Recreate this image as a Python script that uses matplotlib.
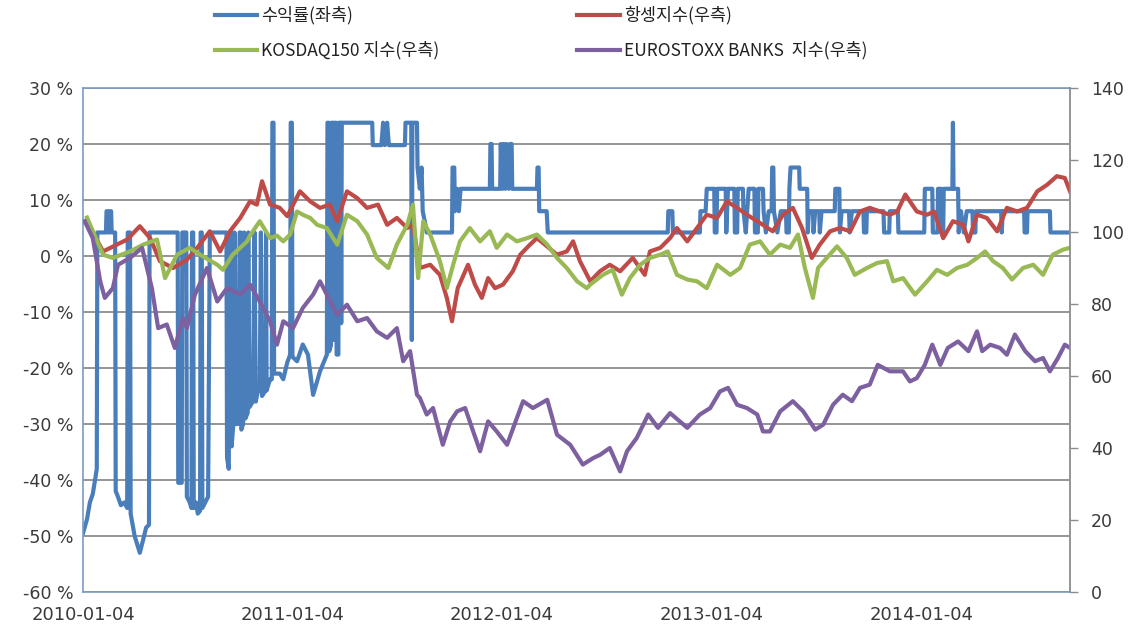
import matplotlib
matplotlib.use('Agg')
import matplotlib.pyplot as plt
import matplotlib.ticker as mticker
from matplotlib.lines import Line2D
import pandas as pd

START = pd.Timestamp('2010-01-04')
END_DAY = 1720

# ---- data (x = days since 2010-01-04) ----
ret_days = [0, 7, 12, 17, 21, 24, 25, 40, 41, 43, 44, 46, 47, 49, 50, 56, 57, 61, 66, 72, 77, 78, 82, 83, 90, 99, 104, 110, 115, 116,
            165, 166, 172, 173, 180, 181, 186, 189, 190, 192, 193, 197, 200, 204, 205, 207, 208, 213, 218, 221,
            250, 251, 254, 256, 258, 259, 262, 264, 266, 270, 273, 275, 276, 279, 281, 283, 287, 288, 290, 296, 299, 301, 305, 308, 310, 312, 318, 319, 320, 326, 329,
            330, 332, 333, 343, 349, 356, 361, 362, 364, 365, 373, 383, 392, 401, 413, 425, 426, 428, 429, 432, 433, 435, 436, 438, 441, 442, 445, 446, 449, 450, 451,
            504, 505, 520, 523, 526, 530, 533, 561, 562, 572, 573, 574, 582, 583, 587, 590, 592, 596, 599,
            643, 644, 647, 648, 652, 655, 658, 709, 710, 712, 713, 727, 728, 731, 733, 736, 738, 742, 744, 747, 748, 791, 792, 794, 795, 808, 810,
            1019, 1020, 1027, 1028, 1075, 1076, 1085, 1087, 1100, 1101, 1104, 1105, 1120, 1121, 1124, 1135, 1136, 1140, 1141, 1150, 1151, 1155, 1160, 1170, 1171, 1176, 1177, 1185, 1186, 1190, 1195, 1200, 1201, 1203, 1204, 1210, 1216, 1225, 1226, 1230, 1231, 1233, 1248, 1249,
            1262, 1263, 1265, 1272, 1273, 1276, 1283, 1284, 1287, 1310, 1311, 1318, 1319, 1322, 1335, 1336, 1340, 1360, 1361, 1365, 1366, 1395, 1396, 1405, 1406, 1420, 1421,
            1466, 1467, 1480, 1481, 1489, 1490, 1495, 1496, 1499, 1500, 1515, 1516, 1517, 1525, 1526, 1530, 1535, 1540, 1550, 1551, 1555, 1556, 1600, 1601, 1603, 1640, 1641, 1645, 1646, 1685, 1686, 1720]
ret_vals = [-49.5, -47, -44, -42.5, -40, -38, 4.2, 4.2, 8, 8, 4.2, 4.2, 8, 8, 4.2, 4.2, -42, -43, -44.5, -44, -45, 4.2, 4.2, -46, -50, -53, -51, -48.5, -48, 4.2,
            4.2, -40.5, -40.5, 4.2, 4.2, -43, -44, -45, 4.2, 4.2, -45, -44, -46, -45.5, 4.2, 4.2, -45, -44, -43, 4.2,
            4.2, -36, -38, 4.2, 4.2, -34, -30, 4.2, -30, -30, 4.2, 4.2, -31, -30, 4.2, -29, -28, 4.2, -27, -26, 4.2, -26, -24, -24, 4.2, -25, -24, 4.2, -24, -22, -22,
            23.8, 23.8, -21, -21, -22, -19, -17.6, 23.8, 23.8, -18, -18.8, -15.8, -17.6, -24.8, -20.6, -17.6, 23.8, 23.8, -17, -16, 23.8, 23.8, -15, 23.8, 23.8, -17.6, -17.6, 23.8, 23.8, -12, 23.8,
            23.8, 19.8, 19.8, 23.8, 19.8, 23.8, 19.8, 19.8, 23.8, 23.8, -15, 23.8, 23.8, 15.8, 12, 15.8, 8, 6, 4.2,
            4.2, 15.8, 15.8, 8, 12, 8, 12, 12, 20, 20, 12, 12, 20, 12, 20, 12, 20, 12, 20, 20, 12, 12, 15.8, 15.8, 8, 8, 4.2,
            4.2, 8, 8, 4.2, 4.2, 8, 8, 12, 12, 4.2, 4.2, 12, 12, 4.2, 12, 12, 4.2, 4.2, 12, 12, 8, 4.2, 12, 12, 4.2, 4.2, 12, 12, 8, 4.2, 8, 8, 15.8, 15.8, 8, 4.2, 8, 8, 4.2, 4.2, 12, 15.8, 15.8, 12,
            12, 4.2, 8, 8, 4.2, 8, 8, 4.2, 8, 8, 12, 12, 4.2, 8, 8, 4.2, 8, 8, 4.2, 4.2, 8, 8, 4.2, 4.2, 8, 8, 4.2,
            4.2, 12, 12, 4.2, 4.2, 12, 12, 4.2, 4.2, 12, 12, 23.8, 12, 12, 4.2, 8, 4.2, 8, 8, 4.2, 4.2, 8, 8, 4.2, 8, 8, 4.2, 4.2, 8, 8, 4.2, 4.2]

hsi_days = [7, 35, 59, 77, 99, 117, 134, 157, 181, 199, 221, 239, 256, 274, 291, 303, 312, 326, 343, 356, 378, 396, 413, 430, 443, 460, 478, 495, 514, 530, 547, 565, 575, 587,
            605, 622, 634, 643, 653, 671, 683, 695, 706, 718, 732, 749, 762, 779, 791, 805, 826, 843, 854, 866, 884,
            901, 918, 936, 958, 979, 988, 1006, 1023, 1035, 1053, 1070, 1087, 1105, 1122, 1140, 1157, 1175,
            1202, 1220, 1237, 1253, 1270, 1284, 1302, 1319, 1337, 1354, 1371, 1389, 1406, 1419, 1433,
            1453, 1471, 1483, 1499, 1516, 1534, 1543, 1558, 1575, 1593, 1610, 1628, 1645, 1663, 1680, 1697, 1711, 1720]
hsi_vals = [103, 94.6, 96.5, 97.9, 101.6, 98.3, 91.9, 90, 92.3, 95.6, 100.2, 94.6, 100.2, 103.9, 108.5, 107.6, 114.1, 107.6, 106.7, 104.4, 111.3, 108.5, 106.7, 107.6, 103, 111.3, 109.4, 106.7, 107.6, 102, 103.9, 101.1, 102, 90,
            90.9, 88.1, 81.7, 75.2, 84.4, 90.9, 85.4, 81.7, 87.2, 84.4, 85.4, 89.1, 93.7, 96.5, 98.3, 96.5, 93.7, 94.6, 97.4, 91.9, 86.3,
            89.1, 90.9, 89.1, 92.8, 88.1, 94.6, 95.6, 98.3, 101.1, 97.4, 101.1, 104.8, 103.9, 108.5, 106.7, 104.8, 103,
            100.2, 104.8, 106.7, 101.1, 92.8, 96.5, 100.2, 101.1, 100.2, 105.7, 106.7, 105.7, 104.8, 105.7, 110.4,
            105.7, 104.8, 105.7, 98.3, 103, 102, 97.4, 104.8, 103.9, 100.2, 106.7, 105.7, 106.7, 111.3, 113.1, 115.5, 115, 111.3]

kosdaq_days = [7, 35, 52, 82, 105, 129, 143, 164, 186, 209, 234, 244, 261, 286, 291, 308, 326, 338, 349, 361, 373, 383, 396, 408, 425, 443, 460, 478, 495, 512, 532, 547, 565, 575, 584, 593, 605,
               622, 634, 645, 657, 674, 692, 709, 721, 739, 756, 774, 791, 809, 826, 843, 861, 878, 884,
               906, 923, 939, 953, 971, 988, 1006, 1019, 1035, 1053, 1070, 1087, 1105, 1128, 1145, 1162,
               1180, 1197, 1215, 1232, 1246, 1258, 1272, 1281, 1296, 1314, 1331, 1345, 1366, 1384, 1401, 1412, 1429,
               1450, 1471, 1488, 1506, 1523, 1541, 1558, 1572, 1586, 1603, 1619, 1638, 1656, 1673, 1690, 1708, 1720]
kosdaq_vals = [104, 93.7, 92.8, 94.6, 96.5, 97.9, 87.2, 93.7, 95.6, 93.2, 90.9, 89.5, 93.7, 97.4, 99, 103, 98.3, 99, 97.4, 99.3, 105.7, 104.8, 103.9, 102, 101.1, 96.5, 104.8, 103, 99.3, 92.8, 90, 96.5, 102, 107.6, 87.2, 103, 99.3,
               91.9, 84.4, 90.9, 97.4, 101.1, 97.4, 100.2, 95.6, 99.3, 97.4, 98.3, 99.3, 96.5, 92.8, 90, 86.3, 84.4, 85.4,
               88.1, 89.5, 82.6, 87.2, 90.9, 92.8, 93.7, 94.6, 88.1, 86.8, 86.3, 84.4, 90.9, 88.1, 90, 96.5,
               97.4, 93.7, 96.5, 95.6, 99.3, 90, 81.7, 90, 92.8, 96, 92.8, 88.1, 90, 91.4, 91.9, 86.3, 87.2,
               82.6, 86.3, 89.5, 88.1, 90, 90.9, 92.8, 94.6, 91.9, 90, 86.8, 90, 90.9, 88.1, 93.7, 95.1, 95.6]

euro_days = [3, 17, 30, 38, 52, 61, 82, 103, 120, 131, 146, 160, 174, 181, 195, 216, 234, 251, 274, 291,
             308, 326, 338, 349, 366, 383, 401, 413, 425, 443, 460, 478, 495, 512, 530, 547, 558, 570, 582, 587,
             599, 610, 627, 640, 652, 666, 680, 692, 706, 721, 739, 756, 767, 784, 809, 826, 849, 871,
             889, 901, 918, 936, 948, 965, 985, 1002, 1023, 1040, 1053, 1075, 1093, 1110, 1124, 1140, 1157, 1175, 1185,
             1197, 1215, 1237, 1255, 1276, 1290, 1307, 1324, 1340, 1354, 1371, 1385, 1406, 1429, 1441,
             1453, 1467, 1480, 1494, 1507, 1525, 1543, 1558, 1567, 1581, 1598, 1610, 1624, 1642, 1659, 1673, 1685, 1699, 1711, 1720]
euro_vals = [103, 98.3, 86.3, 81.7, 84.4, 90.9, 92.8, 95.6, 84.4, 73.3, 74.3, 67.8, 76.1, 73.3, 82.6, 90, 80.7, 84.4, 82.6, 85.4,
             80.7, 75.2, 68.7, 75.2, 73.3, 78.9, 82.6, 86.3, 82.6, 77, 79.8, 75.2, 76.1, 72.4, 70.6, 73.3, 64.1, 66.9, 54.8, 53.9,
             49.3, 51.1, 40.9, 47.4, 50.2, 51.1, 44.6, 39.1, 47.4, 44.6, 40.9, 48.3, 53, 51.1, 53.4, 43.7, 40.9, 35.4,
             37.2, 38.1, 40, 33.5, 39.1, 42.8, 49.3, 45.6, 49.7, 47.4, 45.6, 49.3, 51.1, 55.7, 56.7, 52, 51.1, 49.3, 44.6,
             44.6, 50.2, 53, 50.2, 45.1, 46.5, 52, 54.8, 53, 56.7, 57.6, 63.1, 61.3, 61.3, 58.5,
             59.4, 63.1, 68.7, 63.1, 67.8, 69.6, 66.9, 72.4, 66.9, 68.7, 67.8, 65.9, 71.5, 66.9, 64.1, 65, 61.3, 65, 68.7, 67.8]

xtick_labels = ['2010-01-04', '2011-01-04', '2012-01-04', '2013-01-04', '2014-01-04']
left_ticks = [-60, -50, -40, -30, -20, -10, 0, 10, 20, 30]
right_ticks = [0, 20, 40, 60, 80, 100, 120, 140]
legend_labels = ['수익률(좌측)', '항셍지수(우측)', 'KOSDAQ150 지수(우측)', 'EUROSTOXX BANKS  지수(우측)']

C_BLUE, C_RED, C_GREEN, C_PURPLE = '#4A7EBB', '#BE4B48', '#98B954', '#7D60A0'


def to_dates(days):
    return START + pd.to_timedelta(days, unit='D')


plt.rcParams['font.family'] = ['DejaVu Sans', 'Noto Sans CJK KR']

fig = plt.figure(figsize=(11.4, 6.32), dpi=100)
ax1 = fig.add_axes([83 / 1140, 1 - 592 / 632, 987 / 1140, 504 / 632])
ax2 = ax1.twinx()

LW = 3.0
ax1.plot(to_dates(ret_days), ret_vals, color=C_BLUE, lw=LW, solid_joinstyle='round')
ax2.plot(to_dates(hsi_days), hsi_vals, color=C_RED, lw=LW, solid_joinstyle='round')
ax2.plot(to_dates(kosdaq_days), kosdaq_vals, color=C_GREEN, lw=LW, solid_joinstyle='round')
ax2.plot(to_dates(euro_days), euro_vals, color=C_PURPLE, lw=LW, solid_joinstyle='round')

ax1.set_xlim(START, START + pd.Timedelta(days=END_DAY))
ax1.set_ylim(-60, 30)
ax2.set_ylim(0, 140)

ax1.set_yticks(left_ticks)
ax1.yaxis.set_major_formatter(mticker.FuncFormatter(lambda v, p: f'{int(v)} %'))
ax1.set_xticks(pd.to_datetime(xtick_labels))
ax1.set_xticklabels(xtick_labels)
ax2.set_yticks(right_ticks)

ax1.grid(axis='y', color='#8c8c8c', lw=1.3)
ax1.set_axisbelow(True)

ax1.tick_params(axis='y', length=0, labelsize=12.5, labelcolor='#3a3a3a', pad=7)
ax1.tick_params(axis='x', length=0, labelsize=13, labelcolor='#3a3a3a', pad=10)
ax2.tick_params(axis='y', length=6, width=1, color='#8c8c8c', labelsize=12.5, labelcolor='#3a3a3a', pad=9)

for s in ['left', 'top', 'bottom']:
    ax1.spines[s].set_color('#7b9bc6')
    ax1.spines[s].set_linewidth(1.2)
    ax2.spines[s].set_visible(False)
ax1.spines['right'].set_visible(False)
ax2.spines['right'].set_color('#8c8c8c')
ax2.spines['right'].set_linewidth(1.3)

# legend (two rows x two columns)
rows_y = [1 - 15 / 632, 1 - 50 / 632]
col_x = [(215 / 1140, 257 / 1140), (577 / 1140, 620 / 1140)]
entries = [(0, 0, C_BLUE, legend_labels[0]), (0, 1, C_RED, legend_labels[1]),
           (1, 0, C_GREEN, legend_labels[2]), (1, 1, C_PURPLE, legend_labels[3])]
for r, c, col, lab in entries:
    x0, x1 = col_x[c]
    fig.add_artist(Line2D([x0, x1], [rows_y[r], rows_y[r]], transform=fig.transFigure, color=col, lw=3))
    fig.text(x1 + 4 / 1140, rows_y[r], lab, va='center', ha='left', fontsize=12.5, color='#222222',
             family=['Noto Sans CJK KR', 'DejaVu Sans'])

fig.savefig('out.png', dpi=100)
